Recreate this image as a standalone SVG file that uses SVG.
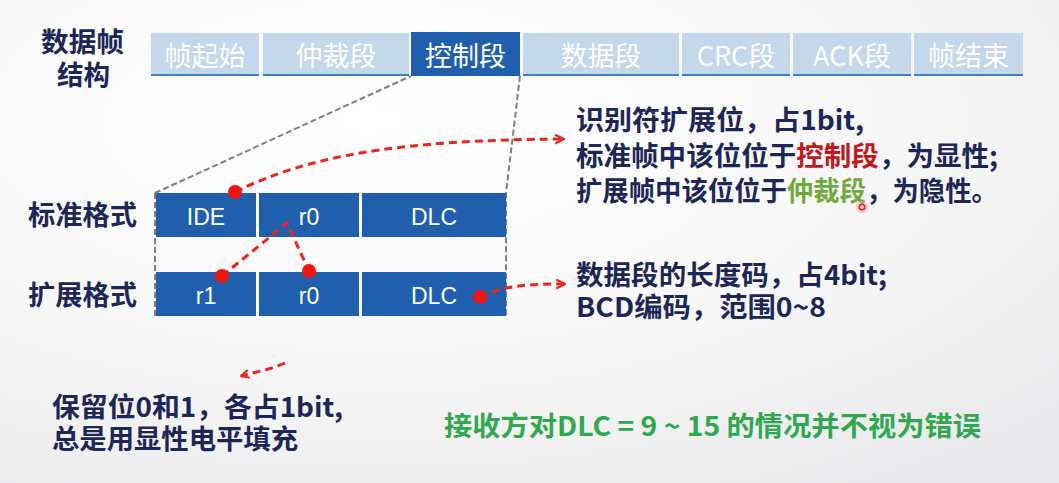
<svg xmlns="http://www.w3.org/2000/svg" width="1059" height="483" viewBox="0 0 1059 483">
<defs>
  <radialGradient id="bg" cx="0.35" cy="0.25" r="0.9">
    <stop offset="0" stop-color="#ffffff"/>
    <stop offset="0.6" stop-color="#f6f6f7"/>
    <stop offset="1" stop-color="#e9e9eb"/>
  </radialGradient>
  <marker id="arr" viewBox="0 0 10 10" refX="9" refY="5" markerWidth="11" markerHeight="11" markerUnits="userSpaceOnUse" orient="auto">
    <path d="M1,1 L9,5 L1,9" fill="none" stroke="#e8261f" stroke-width="2"/>
  </marker>
  <marker id="arrS" viewBox="0 0 10 10" refX="9" refY="5" markerWidth="10" markerHeight="10" markerUnits="userSpaceOnUse" orient="auto">
    <path d="M1,1 L9,5 L1,9" fill="none" stroke="#e8261f" stroke-width="2"/>
  </marker>
</defs>
<style>
  .lc { fill: #c4d7eb; }
  .lcl { stroke: #3f7fcf; stroke-width: 2; }
  .dc { fill: #1f5fad; }
  .tt { font-family: "Noto Sans CJK SC", "Liberation Sans", sans-serif; font-size: 27px; fill: #ffffff; text-anchor: middle; }
  .ct { font-family: "Liberation Sans", "Noto Sans", sans-serif; font-size: 23px; fill: #ffffff; text-anchor: middle; }
  .lb { font-family: "Noto Sans CJK SC", sans-serif; font-size: 27px; font-weight: bold; fill: #1c2758; }
  .gd { fill: none; stroke: #7f7f7f; stroke-width: 2; stroke-dasharray: 6 3; }
  .rd { fill: none; stroke: #e8261f; stroke-width: 3; stroke-dasharray: 8 5; }
  .dot { fill: #f0140f; }
</style>
<rect width="1059" height="483" fill="url(#bg)"/>

<g id="title">
  <text class="lb" x="41" y="52" textLength="83" lengthAdjust="spacingAndGlyphs">数据帧</text>
  <text class="lb" x="57" y="85" textLength="53" lengthAdjust="spacingAndGlyphs">结构</text>
</g>

<g id="frame-bar">
  <g id="seg-sof"><rect class="lc" x="151" y="33" width="108" height="43"/><line class="lcl" x1="151" y1="75" x2="259" y2="75"/><text class="tt" x="205" y="66">帧起始</text></g>
  <g id="seg-arb"><rect class="lc" x="263" y="33" width="146" height="43"/><line class="lcl" x1="263" y1="75" x2="409" y2="75"/><text class="tt" x="336" y="66">仲裁段</text></g>
  <g id="seg-ctrl"><rect class="dc" x="411" y="32" width="109" height="44"/><text class="tt" x="465.5" y="66">控制段</text></g>
  <g id="seg-data"><rect class="lc" x="523" y="33" width="156" height="43"/><line class="lcl" x1="523" y1="75" x2="679" y2="75"/><text class="tt" x="601" y="66">数据段</text></g>
  <g id="seg-crc"><rect class="lc" x="682" y="33" width="108" height="43"/><line class="lcl" x1="682" y1="75" x2="790" y2="75"/><text class="tt" x="736" y="66">CRC段</text></g>
  <g id="seg-ack"><rect class="lc" x="793" y="33" width="118" height="43"/><line class="lcl" x1="793" y1="75" x2="911" y2="75"/><text class="tt" x="852" y="66">ACK段</text></g>
  <g id="seg-eof"><rect class="lc" x="914" y="33" width="109" height="43"/><line class="lcl" x1="914" y1="75" x2="1023" y2="75"/><text class="tt" x="968.5" y="66">帧结束</text></g>
</g>

<g id="row-labels">
  <text class="lb" x="28" y="225" textLength="109" lengthAdjust="spacingAndGlyphs">标准格式</text>
  <text class="lb" x="28" y="305" textLength="109" lengthAdjust="spacingAndGlyphs">扩展格式</text>
</g>

<g id="connectors-gray">
  <path class="gd" d="M155,193 L411,76"/>
  <path class="gd" d="M520,76 L506,193 L506,316"/>
  <path class="gd" d="M155,193 L155,316"/>
</g>

<g id="standard-row">
  <g id="std-ide"><rect class="dc" x="156" y="193" width="100" height="44"/><text class="ct" x="206" y="225">IDE</text></g>
  <g id="std-r0"><rect class="dc" x="259" y="193" width="100" height="44"/><text class="ct" x="309" y="225">r0</text></g>
  <g id="std-dlc"><rect class="dc" x="362" y="193" width="144" height="44"/><text class="ct" x="434" y="225">DLC</text></g>
</g>

<g id="extended-row">
  <g id="ext-r1"><rect class="dc" x="156" y="272" width="100" height="44"/><text class="ct" x="206" y="304">r1</text></g>
  <g id="ext-r0"><rect class="dc" x="259" y="272" width="100" height="44"/><text class="ct" x="309" y="304">r0</text></g>
  <g id="ext-dlc"><rect class="dc" x="362" y="272" width="144" height="44"/><text class="ct" x="434" y="304">DLC</text></g>
</g>

<g id="connectors-red">
  <path class="rd" d="M235,192 C310,155 400,140 564,139" marker-end="url(#arr)"/>
  <path class="rd" d="M222,276 L287,223 L309,271"/>
  <path class="rd" d="M480,297 C505,285 530,284 565,284" marker-end="url(#arr)"/>
  <path class="rd" d="M285,363 C272,369 256,372 241,376" marker-end="url(#arrS)"/>
  <circle class="dot" cx="235" cy="192" r="7"/>
  <circle class="dot" cx="222" cy="276" r="7"/>
  <circle class="dot" cx="309" cy="271" r="7"/>
  <circle class="dot" cx="480" cy="297" r="7"/>
</g>

<g id="note-ide">
  <text class="lb" x="576" y="130" textLength="288" lengthAdjust="spacingAndGlyphs">识别符扩展位，占1bit,</text>
  <text class="lb" x="576" y="166" textLength="422" lengthAdjust="spacingAndGlyphs">标准帧中该位位于<tspan fill="#c0181c">控制段</tspan>，为显性;</text>
  <text class="lb" x="576" y="201" textLength="422" lengthAdjust="spacingAndGlyphs">扩展帧中该位位于<tspan fill="#6fab3a">仲裁段</tspan>，为隐性。</text>
</g>

<g id="note-dlc">
  <text class="lb" x="576" y="285" textLength="311" lengthAdjust="spacingAndGlyphs">数据段的长度码，占4bit;</text>
  <text class="lb" x="576" y="317" textLength="250" lengthAdjust="spacingAndGlyphs">BCD编码，范围0~8</text>
</g>

<g id="note-reserved">
  <text class="lb" x="52" y="417" textLength="291" lengthAdjust="spacingAndGlyphs">保留位0和1，各占1bit,</text>
  <text class="lb" x="52" y="449" textLength="246" lengthAdjust="spacingAndGlyphs">总是用显性电平填充</text>
</g>

<g id="note-green">
  <text class="lb" x="444" y="436" textLength="537" lengthAdjust="spacingAndGlyphs" style="fill:#2fa84f">接收方对DLC = 9 ~ 15 的情况并不视为错误</text>
</g>

<g id="pointer">
  <circle cx="862" cy="207" r="6" fill="#f5a0a0" opacity="0.45"/>
  <circle cx="862" cy="207" r="2.8" fill="none" stroke="#e8261f" stroke-width="1.6"/>
</g>
</svg>
